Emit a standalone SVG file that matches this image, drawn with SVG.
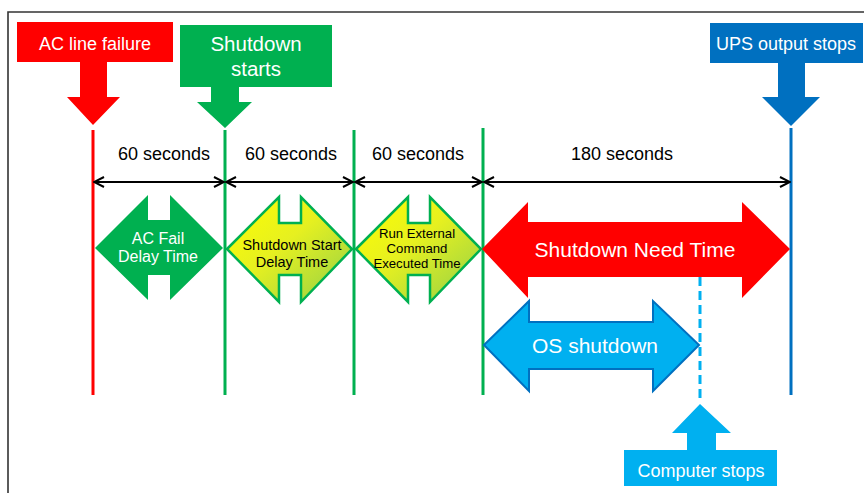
<svg xmlns="http://www.w3.org/2000/svg" width="864" height="493" viewBox="0 0 864 493">
<defs>
<marker id="ah" viewBox="0 0 12 12" refX="11" refY="6" markerWidth="12" markerHeight="12" markerUnits="userSpaceOnUse" orient="auto-start-reverse">
<path d="M1,1 L11,6 L1,11" fill="none" stroke="#000" stroke-width="2"/>
</marker>
<linearGradient id="yg" x1="0" y1="0" x2="1" y2="1">
<stop offset="0" stop-color="#ffff00"/>
<stop offset="0.45" stop-color="#e6f020"/>
<stop offset="1" stop-color="#8fcf4a"/>
</linearGradient>
<style>
text{font-family:"Liberation Sans",Arial,sans-serif;text-anchor:middle}
.w{fill:#fff}
.k{fill:#000}
.vl{stroke-width:3;fill:none}
.dim{stroke:#000;stroke-width:2;marker-start:url(#ah);marker-end:url(#ah)}
</style>
</defs>
<rect width="864" height="493" fill="#fff"/>
<path d="M8,493 V12 H864" fill="none" stroke="#333" stroke-width="1.6"/>

<g id="connectors">
<line class="vl" x1="93" y1="130" x2="93" y2="395" stroke="#ff0000"/>
<line class="vl" x1="225" y1="130" x2="225" y2="395" stroke="#00b050"/>
<line class="vl" x1="354" y1="130" x2="354" y2="395" stroke="#00b050"/>
<line class="vl" x1="483" y1="128" x2="483" y2="395" stroke="#00b050"/>
<line class="vl" x1="791" y1="128" x2="791" y2="395" stroke="#0070c0"/>
<line x1="700" y1="277" x2="700" y2="403" stroke="#00b0f0" stroke-width="3" stroke-dasharray="9,5"/>
<line class="dim" x1="94" y1="182" x2="224" y2="182"/>
<line class="dim" x1="226" y1="182" x2="353" y2="182"/>
<line class="dim" x1="355" y1="182" x2="482" y2="182"/>
<line class="dim" x1="484" y1="182" x2="790" y2="182"/>
</g>

<g id="dim-labels">
<text x="164" y="160" font-size="18" class="k">60 seconds</text>
<text x="291" y="160" font-size="18" class="k">60 seconds</text>
<text x="418" y="160" font-size="18" class="k">60 seconds</text>
<text x="622" y="160" font-size="18" class="k">180 seconds</text>
</g>

<g id="ac-line-failure">
<rect x="17" y="22" width="156" height="40" fill="#ff0000"/>
<path d="M80,62 H107 V97 H120 L93,125 L67,97 H80 Z" fill="#ff0000"/>
<text x="95" y="50" font-size="18" class="w">AC line failure</text>
</g>

<g id="shutdown-starts">
<rect x="180" y="25" width="152" height="62" fill="#00b050"/>
<path d="M211,87 H239 V102 H252 L225,128 L197,102 H211 Z" fill="#00b050"/>
<text x="256" y="51" font-size="20.5" class="w">Shutdown</text>
<text x="256" y="76" font-size="20.5" class="w">starts</text>
</g>

<g id="ups-output-stops">
<rect x="710" y="23" width="153" height="40" fill="#0070c0"/>
<path d="M778,63 H805 V97 H820 L791,126 L762,97 H778 Z" fill="#0070c0"/>
<text x="786" y="50" font-size="18" class="w">UPS output stops</text>
</g>

<g id="computer-stops">
<rect x="624" y="450" width="153" height="36" fill="#00b0f0"/>
<path d="M687,450 V433 H672 L700,404 L731,433 H716 V450 Z" fill="#00b0f0"/>
<text x="701" y="477" font-size="18" class="w">Computer stops</text>
</g>

<g id="ac-fail-delay">
<path d="M95,248 L148,195 V220 H170 V195 L223,248 L170,300 V275 H148 V300 Z" fill="#00b050"/>
<text x="158" y="244" font-size="16" class="w">AC Fail</text>
<text x="158" y="262" font-size="16" class="w">Delay Time</text>
</g>

<g id="shutdown-start-delay">
<path d="M227,249 L279,197 V223 H301 V197 L352,249 L301,302 V275 H279 V302 Z" fill="url(#yg)" stroke="#00b050" stroke-width="2.5" stroke-linejoin="miter"/>
<text x="292" y="250" font-size="14.5" class="k">Shutdown Start</text>
<text x="292" y="267" font-size="14.5" class="k">Delay Time</text>
</g>

<g id="run-external">
<path d="M356,249 L408,197 V223 H430 V197 L481,249 L430,302 V275 H408 V302 Z" fill="url(#yg)" stroke="#00b050" stroke-width="2.5" stroke-linejoin="miter"/>
<text x="417" y="238" font-size="13.2" class="k">Run External</text>
<text x="417" y="253" font-size="13.2" class="k">Command</text>
<text x="417" y="268" font-size="13.2" class="k">Executed Time</text>
</g>

<g id="shutdown-need-time">
<path d="M482,249 L528,202 V222 H742 V202 L790,249 L742,298 V277 H528 V298 Z" fill="#ff0000"/>
<text x="635" y="257" font-size="21" class="w">Shutdown Need Time</text>
</g>

<g id="os-shutdown">
<path d="M484,345 L529,301 V322 H653 V301 L699,345 L653,391 V369 H529 V391 Z" fill="#00b0f0" stroke="#0070c0" stroke-width="2" stroke-linejoin="miter"/>
<text x="595" y="353" font-size="21" class="w">OS shutdown</text>
</g>
</svg>
